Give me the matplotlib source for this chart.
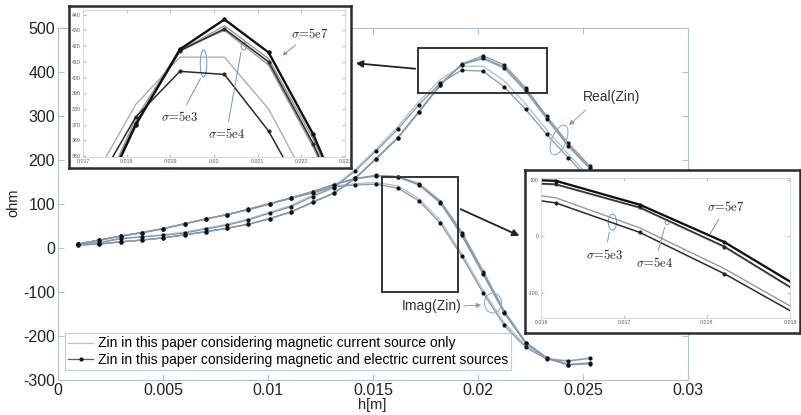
import matplotlib
matplotlib.use("Agg")
import matplotlib.pyplot as plt
from matplotlib.lines import Line2D
from matplotlib.patches import Ellipse, Rectangle

plt.rcParams["font.family"] = ["Liberation Sans", "DejaVu Sans"]
plt.rcParams["axes.unicode_minus"] = False
plt.rcParams["mathtext.fontset"] = "cm"

# sample heights h [m]
h = [0.00095, 0.00197, 0.00298, 0.00400, 0.00501, 0.00603, 0.00704, 0.00806,
     0.00907, 0.01009, 0.01110, 0.01212, 0.01313, 0.01415, 0.01516, 0.01618,
     0.01719, 0.01821, 0.01922, 0.02024, 0.02125, 0.02227, 0.02328, 0.02430,
     0.02531]

# Real(Zin); "_m" = magnetic source only, "_me" = magnetic + electric sources
re_5e7_me = [7, 9, 14, 18, 23, 30, 37, 45, 54, 67, 82, 104, 124, 158, 203, 250, 309, 370, 418, 437, 416, 364, 299, 238, 187]
re_5e7_m = [7, 9, 14, 18, 23, 30, 37, 45, 54, 67, 82, 104, 125, 159, 204, 251, 310, 371, 417, 433, 412, 361, 297, 236, 185]
re_5e4_me = [7, 9, 14, 18, 23, 30, 37, 45, 54, 67, 82, 104, 124, 158, 203, 250, 309, 371, 417, 431, 410, 358, 294, 232, 182]
re_5e4_m = [7, 9, 14, 18, 23, 30, 37, 45, 54, 67, 82, 104, 125, 159, 204, 251, 311, 374, 418, 430, 408, 356, 293, 231, 181]
re_5e3_me = [9, 12, 21, 25, 29, 34, 43, 52, 64, 79, 94, 117, 137, 175, 221, 270, 326, 375, 404, 402, 366, 315, 258, 205, 155]
re_5e3_m = [9, 13, 22, 26, 30, 36, 45, 54, 66, 81, 97, 120, 140, 178, 225, 276, 333, 383, 413, 413, 380, 327, 268, 213, 162]

# Imag(Zin)
im_5e7_me = [9, 18, 27, 35, 44, 55, 66, 76, 88, 101, 114, 128, 144, 158, 165, 162, 145, 105, 35, -54, -145, -215, -250, -265, -262]
im_5e7_m = [9, 18, 27, 35, 44, 55, 66, 76, 88, 101, 114, 128, 144, 158, 165, 163, 147, 108, 38, -51, -142, -213, -249, -264, -261]
im_5e4_me = [9, 18, 27, 35, 44, 55, 66, 76, 88, 101, 114, 128, 144, 157, 164, 161, 143, 102, 29, -60, -148, -217, -251, -266, -263]
im_5e4_m = [9, 18, 27, 35, 44, 55, 66, 76, 88, 101, 114, 128, 144, 157, 164, 162, 145, 105, 33, -57, -146, -215, -250, -265, -262]
im_5e3_me = [9, 18, 27, 35, 44, 55, 66, 76, 87, 100, 113, 125, 139, 143, 145, 136, 107, 56, -18, -102, -176, -226, -253, -257, -251]
im_5e3_m = [9, 18, 27, 35, 44, 55, 66, 76, 87, 100, 113, 126, 141, 146, 149, 141, 112, 62, -12, -96, -170, -222, -251, -256, -250]

# zoomed Imag(Zin) inset, as drawn in the inset
h_zoom = [0.01516, 0.01618, 0.01719, 0.01821, 0.01922]
zi_5e7_me = [104, 98, 56, -10, -99]
zi_5e7_m = [103, 97, 55, -11, -100]
zi_5e4_me = [98, 92, 51, -18, -109]
zi_5e4_m = [97, 91, 50, -19, -110]
zi_5e3_me = [80, 59, 7, -66, -149]
zi_5e3_m = [88, 68, 15, -57, -141]

legend_labels = ["Zin in this paper considering magnetic current source only",
                 "Zin in this paper considering magnetic and electric current sources"]

W, H = 801, 415
AX_COL = "#a9c2d6"
LIGHT = "#aec3d3"
MID = "#8299ad"


def fx(px):
    return px / W


def fy(py):
    return 1 - py / H


fig = plt.figure(figsize=(W / 100, H / 100), dpi=100)

# ---- main axes
ax = fig.add_axes([fx(58), fy(380), fx(688 - 58), (380 - 28) / H])
real_m = [re_5e7_m, re_5e4_m, re_5e3_m]
real_me = [re_5e7_me, re_5e4_me, re_5e3_me]
imag_m = [im_5e7_m, im_5e4_m, im_5e3_m]
imag_me = [im_5e7_me, im_5e4_me, im_5e3_me]
for y in real_m + imag_m:
    ax.plot(h, y, color=LIGHT, lw=1.0, zorder=2)
for y in real_me + imag_me:
    ax.plot(h, y, color=MID, lw=0.9, marker="o", ms=2.0, mfc="#111", mec="#111",
            zorder=3)

ax.set_xlim(0, 0.03)
ax.set_ylim(-300, 500)
ax.set_xticks([0, 0.005, 0.01, 0.015, 0.02, 0.025, 0.03])
ax.set_xticklabels(["0", "0.005", "0.01", "0.015", "0.02", "0.025", "0.03"])
ax.set_yticks(range(-300, 501, 100))
ax.tick_params(direction="in", length=4, color=AX_COL, labelsize=11.5,
               labelcolor="#222", top=True, right=True, pad=2)
for s in ax.spines.values():
    s.set_color(AX_COL)
    s.set_linewidth(0.8)

fig.text(fx(13), fy(203), "ohm", rotation=90, ha="center", va="center",
         fontsize=10.5, color="#222")
fig.text(fx(372), fy(405), "h[m]", ha="center", va="center", fontsize=10.5,
         color="#222")

handles = [Line2D([], [], color=LIGHT, lw=0.9),
           Line2D([], [], color="#56606a", lw=0.9, marker="o", ms=2.0,
                  mfc="#111", mec="#111")]
leg = ax.legend(handles, legend_labels, loc="lower left",
                bbox_to_anchor=(fx(65), fy(370)), bbox_transform=fig.transFigure,
                fontsize=10, frameon=True, fancybox=False, handlelength=1.8,
                handletextpad=0.3, borderpad=0.25, labelspacing=0.15,
                borderaxespad=0)
leg.get_frame().set_edgecolor(AX_COL)
leg.get_frame().set_linewidth(0.8)

# zoom rectangles and arrows on the main axes (figure pixel coords)
for (x0, y0, x1, y1) in [(418, 48, 547, 93), (382, 177, 458, 292)]:
    fig.patches.append(Rectangle((fx(x0), fy(y1)), fx(x1 - x0), (y1 - y0) / H,
                                 transform=fig.transFigure, fill=False,
                                 ec="#333", lw=1.4, zorder=5))
fig.patches.append(Ellipse((fx(559), fy(140)), fx(15), 30 / H, angle=-10,
                           transform=fig.transFigure, fill=False, ec="#8fb0cc",
                           lw=0.8, zorder=5))
fig.patches.append(Ellipse((fx(493), fy(303)), fx(17), 20 / H,
                           transform=fig.transFigure, fill=False, ec="#8fb0cc",
                           lw=0.8, zorder=5))
fig.text(fx(612), fy(97), "Real(Zin)", ha="center", va="center", fontsize=10,
         color="#333")
fig.text(fx(432), fy(306), "Imag(Zin)", ha="center", va="center", fontsize=10,
         color="#333")
arrow_kw = dict(xycoords="figure fraction", textcoords="figure fraction")
ax.annotate("", xy=(fx(567), fy(127)), xytext=(fx(588), fy(108)),
            arrowprops=dict(arrowstyle="-|>", color="#7f9fbf", lw=0.7,
                            mutation_scale=7), **arrow_kw)
ax.annotate("", xy=(fx(484), fy(305)), xytext=(fx(461), fy(306)),
            arrowprops=dict(arrowstyle="-|>", color="#7f9fbf", lw=0.7,
                            mutation_scale=7), **arrow_kw)
ax.annotate("", xy=(fx(353), fy(63)), xytext=(fx(418), fy(69)),
            arrowprops=dict(arrowstyle="-|>", color="#222", lw=1.3,
                            mutation_scale=10), **arrow_kw)
ax.annotate("", xy=(fx(522), fy(237)), xytext=(fx(458), fy(208)),
            arrowprops=dict(arrowstyle="-|>", color="#222", lw=1.3,
                            mutation_scale=10), **arrow_kw)


def inset_frame(x0, y0, x1, y1):
    box = fig.add_axes([fx(x0), fy(y1), fx(x1 - x0), (y1 - y0) / H])
    box.set_xticks([])
    box.set_yticks([])
    box.set_facecolor("white")
    for s in box.spines.values():
        s.set_color("#2a2a2a")
        s.set_linewidth(1.8)
    box.set_zorder(10)
    return box


def inset_axes(x0, y0, x1, y1):
    a = fig.add_axes([fx(x0), fy(y1), fx(x1 - x0), (y1 - y0) / H])
    a.set_zorder(11)
    a.tick_params(direction="in", length=2, color=AX_COL, labelsize=3.8,
                  labelcolor="#4a5a6a", top=True, right=True, pad=1.5)
    for s in a.spines.values():
        s.set_color("#c4d4e2")
        s.set_linewidth(0.6)
    return a


sig_kw = dict(fontsize=9, color="#222")
ln_kw = dict(arrowstyle="-", color="#6f95b5", lw=0.7)

# ---- inset 1: Real(Zin) near peak
inset_frame(69, 6, 351, 168)
a1 = inset_axes(83, 10, 345, 157)
a1.plot(h, re_5e3_m, color="#a7b1bb", lw=1.0)
a1.plot(h, re_5e4_m, color="#8e9aa6", lw=1.0)
a1.plot(h, re_5e7_m, color="#8e9aa6", lw=1.0)
a1.plot(h, re_5e3_me, color="#2b2b2b", lw=1.1, marker="o", ms=2.0, mfc="#111")
a1.plot(h, re_5e4_me, color="#333", lw=1.2, marker="o", ms=2.0, mfc="#111")
a1.plot(h, re_5e7_me, color="#111", lw=1.7, marker="o", ms=2.2, mfc="#111")
a1.set_xlim(0.017, 0.023)
a1.set_ylim(349.5, 443)
a1.set_xticks([0.017, 0.018, 0.019, 0.02, 0.021, 0.022, 0.023])
a1.set_xticklabels(["0.017", "0.018", "0.019", "0.02", "0.021", "0.022", "0.023"])
a1.set_yticks(range(350, 441, 10))
a1.add_patch(Ellipse((0.01976, 409), 0.00015, 17, fill=False, ec="#6f95b5", lw=0.7))
a1.add_patch(Ellipse((0.02068, 420), 0.00012, 5, fill=False, ec="#6f95b5", lw=0.7))
a1.annotate(r"$\sigma\!=\!\mathrm{5e7}$", xy=(0.02152, 413), xytext=(0.0222, 428),
            ha="center", va="center", arrowprops=dict(arrowstyle="-|>", color="#6f95b5",
                                                      lw=0.7, mutation_scale=5),
            **sig_kw)
a1.annotate(r"$\sigma\!=\!\mathrm{5e3}$", xy=(0.01972, 401), xytext=(0.01922, 375),
            ha="center", va="center", arrowprops=ln_kw, **sig_kw)
a1.annotate(r"$\sigma\!=\!\mathrm{5e4}$", xy=(0.02063, 418), xytext=(0.02028, 364),
            ha="center", va="center", arrowprops=ln_kw, **sig_kw)

# ---- inset 2: Imag(Zin)
inset_frame(525, 170, 800, 333)
a2 = inset_axes(541, 178, 790, 318)
a2.plot(h_zoom, zi_5e3_m, color="#8e9aa6", lw=1.0)
a2.plot(h_zoom, zi_5e4_m, color="#8e9aa6", lw=1.0)
a2.plot(h_zoom, zi_5e7_m, color="#8e9aa6", lw=1.0)
a2.plot(h_zoom, zi_5e3_me, color="#2b2b2b", lw=1.1, marker="o", ms=2.0, mfc="#111")
a2.plot(h_zoom, zi_5e4_me, color="#333", lw=1.2, marker="o", ms=2.0, mfc="#111")
a2.plot(h_zoom, zi_5e7_me, color="#111", lw=1.6, marker="o", ms=2.0, mfc="#111")
a2.set_xlim(0.016, 0.019)
a2.set_ylim(-144, 103)
a2.set_xticks([0.016, 0.017, 0.018, 0.019])
a2.set_xticklabels(["0.016", "0.017", "0.018", "0.019"])
a2.set_yticks([-100, 0, 100])
a2.add_patch(Ellipse((0.01686, 25), 0.0001, 28, fill=False, ec="#6f95b5", lw=0.7))
a2.add_patch(Ellipse((0.01752, 25), 0.00005, 8, fill=False, ec="#6f95b5", lw=0.7))
a2.annotate(r"$\sigma\!=\!\mathrm{5e7}$", xy=(0.01802, 0), xytext=(0.01823, 52),
            ha="center", va="center", arrowprops=ln_kw, **sig_kw)
a2.annotate(r"$\sigma\!=\!\mathrm{5e3}$", xy=(0.01683, 12), xytext=(0.01677, -32),
            ha="center", va="center", arrowprops=ln_kw, **sig_kw)
a2.annotate(r"$\sigma\!=\!\mathrm{5e4}$", xy=(0.0175, 21), xytext=(0.01737, -47),
            ha="center", va="center", arrowprops=ln_kw, **sig_kw)

fig.savefig("out.png", dpi=100)
